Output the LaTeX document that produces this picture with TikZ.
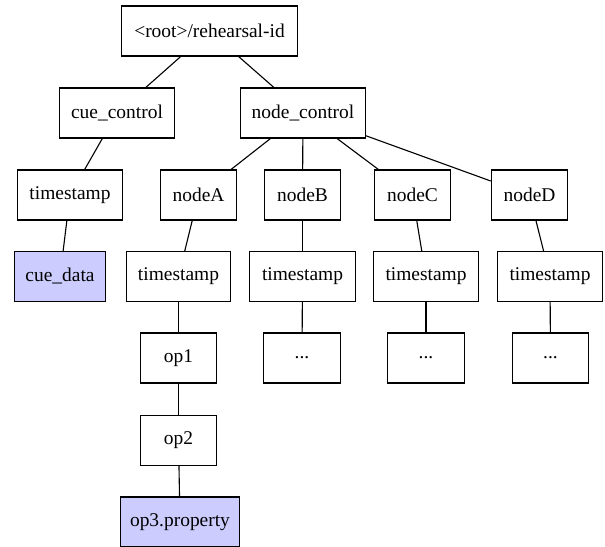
\documentclass[tikz,border=0pt]{standalone}
\usepackage{fontspec}
\setmainfont{Liberation Serif}
\definecolor{leaf}{RGB}{204,204,255}
\begin{document}
\begin{tikzpicture}[x=0.72pt,y=-0.72pt,
  box/.style={draw=black, line width=0.8pt, fill=white, minimum height=36pt,
    inner sep=0pt, font=\fontsize{14}{16}\selectfont},
  leafbox/.style={box, fill=leaf},
  link/.style={draw=black, line width=0.8pt}]
\useasboundingbox (0,0) rectangle (605,546);

% top levels
\node[box, minimum width=127pt] (root) at (209.5,31) {<root>/rehearsal-id};
\node[box, minimum width=83pt] (cue) at (117,113) {cue\_control};
\node[box, minimum width=90pt] (nc) at (303,113) {node\_control};

% third row
\node[box, minimum width=76pt] (tsq) at (70,195) {timestamp};
\node[box, minimum width=55pt] (na) at (198.5,195) {nodeA};
\node[box, minimum width=55pt] (nb) at (302.5,195) {nodeB};
\node[box, minimum width=55pt] (ncn) at (412.5,195) {nodeC};
\node[box, minimum width=55pt] (nd) at (529.5,195) {nodeD};

% timestamps
\node[leafbox, minimum width=66pt] (cd) at (60,276.5) {cue\_data};
\node[box, minimum width=75pt] (tsa) at (178.5,276.5) {timestamp};
\node[box, minimum width=76pt] (tsb) at (302.5,276.5) {timestamp};
\node[box, minimum width=76pt] (tsc) at (426,276.5) {timestamp};
\node[box, minimum width=76pt] (tsd) at (550,276.5) {timestamp};

% operations
\node[box, minimum width=55pt] (op1) at (178.5,358) {op1};
\node[box, minimum width=55pt] (db) at (302,358) {...};
\node[box, minimum width=55pt] (dc) at (426,358) {...};
\node[box, minimum width=55pt] (dd) at (550.5,358) {...};
\node[box, minimum width=55pt] (op2) at (178.5,440.5) {op2};
\node[leafbox, minimum width=86pt] (op3) at (180,522) {op3.property};

% connectors
\draw[link] (root) -- (cue);
\draw[link] (root) -- (nc);
\draw[link] (cue) -- (tsq);
\draw[link] (tsq) -- (cd);
\draw[link] (nc) -- (na);
\draw[link] (nc) -- (nb);
\draw[link] (nc) -- (ncn);
\draw[link] (nc) -- (nd);
\draw[link] (na) -- (tsa);
\draw[link] (nb) -- (tsb);
\draw[link] (ncn) -- (tsc);
\draw[link] (nd) -- (tsd);
\draw[link] (tsa) -- (op1);
\draw[link] (tsb) -- (db);
\draw[link] (tsc) -- (dc);
\draw[link] (tsd) -- (dd);
\draw[link] (op1) -- (op2);
\draw[link] (op2) -- (op3);
\end{tikzpicture}
\end{document}
